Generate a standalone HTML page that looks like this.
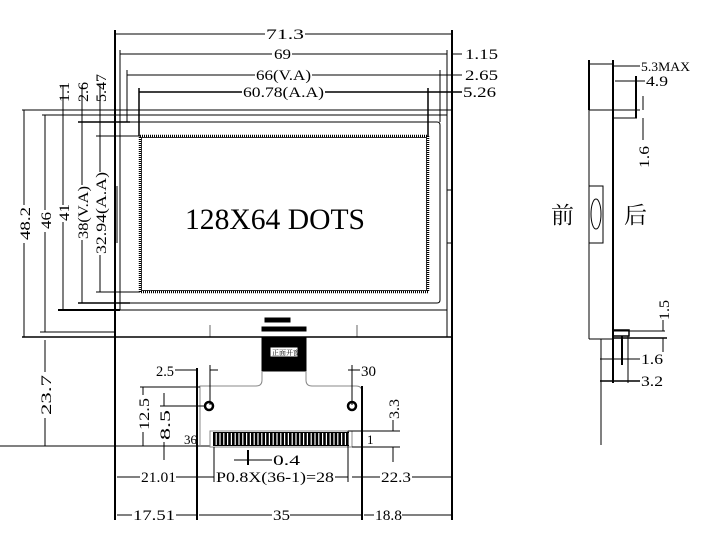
<!DOCTYPE html>
<html><head><meta charset="utf-8"><style>
html,body{margin:0;padding:0;background:#fff;width:702px;height:537px;overflow:hidden}
svg{display:block}
text{font-family:"Liberation Serif","Noto Serif CJK SC",serif;font-size:15px;fill:#000}
</style></head><body>
<svg width="702" height="537" viewBox="0 0 702 537" xmlns="http://www.w3.org/2000/svg">
<g stroke="#000" fill="none" stroke-width="1">
<line x1="115" y1="30" x2="115" y2="110" stroke-width="2"/>
<line x1="452" y1="30" x2="452" y2="520" stroke-width="2"/>
<line x1="115" y1="34" x2="265" y2="34"/><line x1="305" y1="34" x2="452" y2="34"/>
<line x1="120" y1="50" x2="120" y2="115"/><line x1="447" y1="50" x2="447" y2="337"/>
<line x1="120" y1="54" x2="272" y2="54"/><line x1="292" y1="54" x2="447" y2="54"/><line x1="452" y1="54" x2="462" y2="54"/>
<line x1="127" y1="70" x2="127" y2="122"/><line x1="440" y1="70" x2="440" y2="122"/>
<line x1="127" y1="75" x2="255" y2="75"/><line x1="312" y1="75" x2="440" y2="75"/><line x1="440" y1="75" x2="462" y2="75"/>
<line x1="139" y1="88" x2="139" y2="136" stroke-width="1.5"/><line x1="428" y1="88" x2="428" y2="136" stroke-width="1.5"/>
<line x1="139" y1="92" x2="242" y2="92" stroke-width="1.5"/><line x1="325" y1="92" x2="428" y2="92" stroke-width="1.5"/><line x1="428" y1="92" x2="462" y2="92" stroke-width="1.5"/>
<line x1="115" y1="110" x2="115" y2="520" stroke-width="2"/>
<line x1="22" y1="110" x2="452" y2="110"/>
<rect x="120" y="115" width="327" height="195"/>
<line x1="42" y1="115" x2="120" y2="115"/>
<path d="M127 122 H437 Q440 122 440 125 V300 Q440 303 437 303 H127"/>
<line x1="78" y1="122" x2="130" y2="122" stroke-width="1.5"/>
<line x1="78" y1="303" x2="130" y2="303" stroke-width="1.5"/>
<rect x="140" y="136" width="288" height="156" stroke-width="2.5" stroke-dasharray="1 1"/>
<rect x="141.5" y="137.5" width="285" height="153" stroke-width="0.8"/>
<line x1="96" y1="136" x2="140" y2="136"/><line x1="96" y1="292" x2="140" y2="292"/>
<line x1="58" y1="310" x2="120" y2="310" stroke-width="2"/>
<line x1="22" y1="337" x2="452" y2="337" stroke-width="1.5"/>
<line x1="40" y1="332" x2="115" y2="332"/>
<line x1="447" y1="190" x2="452" y2="190"/><line x1="447" y1="243" x2="452" y2="243"/>
<line x1="117" y1="186" x2="117" y2="243"/>
<line x1="24" y1="110" x2="24" y2="205"/><line x1="24" y1="243" x2="24" y2="337"/>
<line x1="45" y1="115" x2="45" y2="210"/><line x1="45" y1="232" x2="45" y2="332"/>
<line x1="63" y1="85" x2="63" y2="205"/><line x1="63" y1="222" x2="63" y2="310"/>
<line x1="82" y1="85" x2="82" y2="185"/><line x1="82" y1="240" x2="82" y2="303"/>
<line x1="100" y1="85" x2="100" y2="172"/><line x1="100" y1="255" x2="100" y2="292"/>
<line x1="45" y1="340" x2="45" y2="372"/><line x1="45" y1="418" x2="45" y2="446"/>
<line x1="0" y1="446" x2="210" y2="446"/>
<line x1="210" y1="325" x2="210" y2="337" stroke-width="0.6"/>
<line x1="357" y1="325" x2="357" y2="337" stroke-width="0.6"/>
<rect x="262" y="327" width="44" height="4" fill="#000"/>
<rect x="265" y="318" width="25" height="4" fill="#000"/>
<rect x="262" y="337" width="44" height="34" fill="#000"/>
<rect x="271" y="348" width="26" height="8" fill="#fff" stroke="#fff"/>
<path d="M262 371 V380 Q262 386 256 386 H200 V447" stroke="#888"/>
<path d="M306 371 V380 Q306 386 312 386 H356 Q362 386 362 392 V431" stroke="#888"/>
<circle cx="209" cy="406" r="4" stroke-width="2.5"/>
<circle cx="352" cy="406" r="4" stroke-width="2.5"/>
<rect x="210" y="431" width="142" height="16" stroke="#888"/>
<line x1="213" y1="439" x2="349" y2="439" stroke-width="14" stroke-dasharray="2.6 1.2"/>
<line x1="213" y1="432.5" x2="349" y2="432.5"/><line x1="213" y1="445.5" x2="349" y2="445.5"/>
<line x1="197" y1="368" x2="197" y2="520" stroke-width="2"/>
<line x1="362" y1="386" x2="362" y2="520" stroke-width="2"/>
<line x1="175" y1="370" x2="197" y2="370"/><line x1="210" y1="370" x2="218" y2="370"/>
<line x1="210" y1="365" x2="210" y2="405"/>
<line x1="348" y1="370" x2="360" y2="370"/><line x1="352" y1="365" x2="352" y2="405"/>
<line x1="140" y1="387" x2="200" y2="387"/>
<line x1="160" y1="406" x2="205" y2="406"/>
<line x1="143" y1="387" x2="143" y2="395"/><line x1="143" y1="432" x2="143" y2="446"/>
<line x1="164" y1="393" x2="164" y2="406"/><line x1="164" y1="442" x2="164" y2="460"/>
<line x1="348" y1="431" x2="400" y2="431"/><line x1="352" y1="447" x2="400" y2="447"/>
<line x1="393" y1="420" x2="393" y2="431"/><line x1="393" y1="447" x2="393" y2="462"/>
<line x1="234" y1="460" x2="272" y2="460"/><line x1="248" y1="450" x2="248" y2="465" stroke-width="2"/>
<line x1="214" y1="447" x2="214" y2="482"/><line x1="348" y1="431" x2="348" y2="482"/>
<line x1="117" y1="477" x2="140" y2="477"/><line x1="176" y1="477" x2="214" y2="477"/>
<line x1="335" y1="477" x2="348" y2="477"/><line x1="352" y1="477" x2="380" y2="477"/><line x1="412" y1="477" x2="452" y2="477"/>
<line x1="117" y1="515" x2="132" y2="515"/><line x1="176" y1="515" x2="197" y2="515"/>
<line x1="199" y1="515" x2="272" y2="515"/><line x1="290" y1="515" x2="362" y2="515"/>
<line x1="364" y1="515" x2="374" y2="515"/><line x1="402" y1="515" x2="452" y2="515"/>
<line x1="589" y1="60" x2="589" y2="339"/>
<line x1="589" y1="60" x2="589" y2="110" stroke-width="2"/>
<line x1="613" y1="60" x2="613" y2="339" stroke-width="2"/>
<line x1="589" y1="110" x2="640" y2="110"/>
<line x1="613" y1="118" x2="637" y2="118"/>
<line x1="589" y1="64" x2="613" y2="64"/><line x1="613" y1="66" x2="640" y2="66"/>
<line x1="615" y1="81" x2="645" y2="81"/>
<line x1="636" y1="76" x2="636" y2="118" stroke-width="2"/>
<line x1="643" y1="96" x2="643" y2="110"/><line x1="643" y1="118" x2="643" y2="140"/>
<rect x="589" y="186" width="14" height="57"/>
<ellipse cx="596" cy="214" rx="5" ry="15"/>
<line x1="589" y1="339" x2="613" y2="339"/>
<line x1="601" y1="339" x2="601" y2="445"/>
<rect x="613" y="330" width="16" height="6" stroke-width="1.5"/>
<line x1="613" y1="331" x2="665" y2="331"/><line x1="613" y1="338" x2="667" y2="338" stroke-width="1.5"/>
<line x1="663" y1="320" x2="663" y2="331"/><line x1="663" y1="338" x2="663" y2="352"/>
<line x1="622" y1="336" x2="622" y2="365" stroke-width="2"/>
<line x1="628" y1="336" x2="628" y2="383"/>
<line x1="600" y1="359" x2="640" y2="359"/>
<line x1="600" y1="381" x2="640" y2="381" stroke-width="1.5"/>
<line x1="613" y1="339" x2="613" y2="383" stroke-width="2"/>
</g>
<g>
<text x="266" y="39" textLength="38" lengthAdjust="spacingAndGlyphs">71.3</text>
<text x="274" y="59" textLength="17" lengthAdjust="spacingAndGlyphs">69</text>
<text x="256" y="80" textLength="55" lengthAdjust="spacingAndGlyphs">66(V.A)</text>
<text x="243" y="97" textLength="81" lengthAdjust="spacingAndGlyphs">60.78(A.A)</text>
<text x="465" y="59" textLength="33" lengthAdjust="spacingAndGlyphs">1.15</text>
<text x="465" y="80" textLength="33" lengthAdjust="spacingAndGlyphs">2.65</text>
<text x="463" y="97" textLength="33" lengthAdjust="spacingAndGlyphs">5.26</text>
<text x="185" y="229" style="font-size:30px" textLength="180" lengthAdjust="spacingAndGlyphs">128X64 DOTS</text>
<text transform="translate(30,240) rotate(-90)" textLength="33" lengthAdjust="spacingAndGlyphs">48.2</text>
<text transform="translate(51,229) rotate(-90)" textLength="17" lengthAdjust="spacingAndGlyphs">46</text>
<text transform="translate(69,221) rotate(-90)" textLength="17" lengthAdjust="spacingAndGlyphs">41</text>
<text transform="translate(88,239) rotate(-90)" textLength="53" lengthAdjust="spacingAndGlyphs">38(V.A)</text>
<text transform="translate(106,254) rotate(-90)" textLength="82" lengthAdjust="spacingAndGlyphs">32.94(A.A)</text>
<text transform="translate(69,102) rotate(-90)" textLength="20" lengthAdjust="spacingAndGlyphs">1.1</text>
<text transform="translate(88,102) rotate(-90)" textLength="20" lengthAdjust="spacingAndGlyphs">2.6</text>
<text transform="translate(106,102) rotate(-90)" textLength="28" lengthAdjust="spacingAndGlyphs">5.47</text>
<text transform="translate(51,415) rotate(-90)" textLength="40" lengthAdjust="spacingAndGlyphs">23.7</text>
<text x="156" y="376" textLength="18" lengthAdjust="spacingAndGlyphs">2.5</text>
<text x="361" y="376">30</text>
<text transform="translate(149,430) rotate(-90)" textLength="32" lengthAdjust="spacingAndGlyphs">12.5</text>
<text transform="translate(170,440) rotate(-90)" textLength="30" lengthAdjust="spacingAndGlyphs">8.5</text>
<text transform="translate(399,419) rotate(-90)" textLength="20" lengthAdjust="spacingAndGlyphs">3.3</text>
<text x="184" y="444" style="font-size:13px">36</text>
<text x="367" y="444" style="font-size:13px">1</text>
<text x="273" y="465" textLength="27" lengthAdjust="spacingAndGlyphs">0.4</text>
<text x="141" y="482" textLength="35" lengthAdjust="spacingAndGlyphs">21.01</text>
<text x="216" y="482" textLength="118" lengthAdjust="spacingAndGlyphs">P0.8X(36-1)=28</text>
<text x="381" y="482" textLength="30" lengthAdjust="spacingAndGlyphs">22.3</text>
<text x="133" y="520" textLength="42" lengthAdjust="spacingAndGlyphs">17.51</text>
<text x="273" y="520" textLength="17" lengthAdjust="spacingAndGlyphs">35</text>
<text x="375" y="520" textLength="27" lengthAdjust="spacingAndGlyphs">18.8</text>
<text x="641" y="71" style="font-size:13px" textLength="49" lengthAdjust="spacingAndGlyphs">5.3MAX</text>
<text x="646" y="86" textLength="22" lengthAdjust="spacingAndGlyphs">4.9</text>
<text transform="translate(649,168) rotate(-90)" textLength="22" lengthAdjust="spacingAndGlyphs">1.6</text>
<text transform="translate(669,320) rotate(-90)" textLength="20" lengthAdjust="spacingAndGlyphs">1.5</text>
<text x="641" y="364" textLength="22" lengthAdjust="spacingAndGlyphs">1.6</text>
<text x="641" y="386" textLength="22" lengthAdjust="spacingAndGlyphs">3.2</text>
<text x="551" y="223" style="font-size:23px;font-family:'Noto Serif CJK SC',serif">前</text>
<text x="624" y="223" style="font-size:23px;font-family:'Noto Serif CJK SC',serif">后</text>
<text x="272" y="355" style="font-size:7px">正面开窗</text>
</g>
</svg>
</body></html>
